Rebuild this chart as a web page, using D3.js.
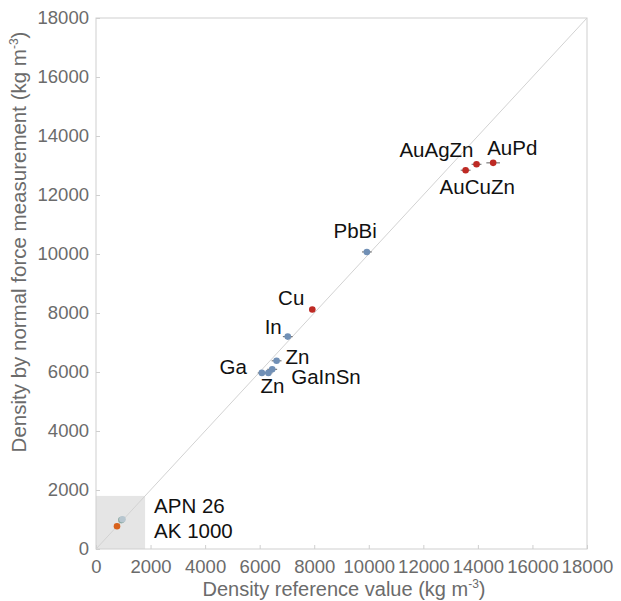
<!DOCTYPE html>
<html><head><meta charset="utf-8">
<script src="https://cdn.jsdelivr.net/npm/d3@7"></script>
<style>body{margin:0;background:#fff;} text{font-family:"Liberation Sans",Arial,sans-serif;}</style>
</head><body>
<svg id="c" width="621" height="601"></svg>
<script>
// ---- data ----
const samples = ["AuPd","AuAgZn","AuCuZn","PbBi","Cu","In","Zn","GaInSn","Zn","Ga","AK 1000","APN 26","APN 26b"];
const refDensity = [14560,13950,13550,9930,7930,7030,6620,6460,6320,6080,770,930,970];
const measuredDensity = [13090,13040,12840,10070,8120,7200,6380,6090,5970,5970,770,980,1010];
const refError = [250,180,180,180,0,180,180,180,150,150,0,0,0];
const sampleGroup = ["alloy","alloy","alloy","metal","alloy","metal","metal","metal","metal","metal","ak","apn","apn2"];
const xTicks = [0,2000,4000,6000,8000,10000,12000,14000,16000,18000];
const yTicks = [0,2000,4000,6000,8000,10000,12000,14000,16000,18000];
const lowRegionMax = 1800;
const lowRegionLabels = ["APN 26","AK 1000"];

// ---- styles / positions ----
const groupColor = {alloy:"#be2a24", metal:"#7190b6", ak:"#d8621c", apn:"#8aa8a2", apn2:"#b7c6cf"};
// label offsets (px) relative to point: [dx, dy(baseline), anchor]
const labelPos = [[-6,-8,"start"],[-3,-7,"end"],[-26,24,"start"],[10,-14,"end"],[-8,-4,"end"],
  [-6,-3,"end"],[9,3,"start"],[19,15,"start"],[-8,20,"start"],[-15,1,"end"],null,null,null];

const svg = d3.select("#c");
const x = d3.scaleLinear().domain([0,18000]).range([96,587]);
const y = d3.scaleLinear().domain([0,18000]).range([549,18]);
const grey = "#6b6b6b";

// shaded low region
svg.append("rect").attr("x",x(0)).attr("y",y(lowRegionMax))
  .attr("width",x(lowRegionMax)-x(0)).attr("height",y(0)-y(lowRegionMax)).attr("fill","#e5e5e5");

// frame
svg.append("rect").attr("x",x(0)).attr("y",y(18000)).attr("width",x(18000)-x(0)).attr("height",y(0)-y(18000))
  .attr("fill","none").attr("stroke","#cfcfcf").attr("stroke-width",1);

// axes
const xAxis = svg.append("g").attr("transform",`translate(0,${y(0)})`)
  .call(d3.axisBottom(x).tickValues(xTicks).tickFormat(d3.format("d")).tickSizeInner(-4).tickSizeOuter(0).tickPadding(11));
const yAxis = svg.append("g").attr("transform",`translate(${x(0)},0)`)
  .call(d3.axisLeft(y).tickValues(yTicks).tickFormat(d3.format("d")).tickSizeInner(-4).tickSizeOuter(0).tickPadding(7));
[xAxis,yAxis].forEach(a=>{
  a.select(".domain").remove();
  a.selectAll(".tick line").attr("stroke","#cfcfcf");
  a.selectAll(".tick text").attr("fill",grey).style("font-size","18.5px").style("font-family","'Liberation Sans',Arial,sans-serif");
});
xAxis.selectAll(".tick text").attr("dy","0.71em");

// diagonal
svg.append("line").attr("x1",x(0)).attr("y1",y(0)).attr("x2",x(18000)).attr("y2",y(18000))
  .attr("stroke","#d2d2d2").attr("stroke-width",1);

// error bars
const idx = d3.range(samples.length);
svg.append("g").selectAll("line").data(idx.filter(i=>refError[i]>0)).join("line")
  .attr("x1",i=>x(refDensity[i]-refError[i])).attr("x2",i=>x(refDensity[i]+refError[i]))
  .attr("y1",i=>y(measuredDensity[i])).attr("y2",i=>y(measuredDensity[i]))
  .attr("stroke","#7a7a7a").attr("stroke-width",1.2);

// points
svg.append("g").selectAll("circle").data(idx).join("circle")
  .attr("cx",i=>x(refDensity[i])).attr("cy",i=>y(measuredDensity[i])).attr("r",3.3)
  .attr("fill",i=>groupColor[sampleGroup[i]]);

// labels
svg.append("g").selectAll("text").data(idx.filter(i=>labelPos[i])).join("text")
  .attr("x",i=>x(refDensity[i])+labelPos[i][0]).attr("y",i=>y(measuredDensity[i])+labelPos[i][1])
  .attr("text-anchor",i=>labelPos[i][2]).attr("fill","#111").style("font-size","20.5px")
  .text(i=>samples[i]);

svg.append("g").selectAll("text").data(lowRegionLabels).join("text")
  .attr("x",x(lowRegionMax)+9).attr("y",(d,j)=>y(lowRegionMax)+17+j*25)
  .attr("fill","#111").style("font-size","20.5px").text(d=>d);

// axis titles
const xt = svg.append("text").attr("x",344).attr("y",596).attr("text-anchor","middle")
  .attr("fill",grey).style("font-size","20px");
xt.append("tspan").text("Density reference value (kg m");
xt.append("tspan").attr("dy",-8).style("font-size","12px").text("-3");
xt.append("tspan").attr("dy",8).text(")");

const yt = svg.append("text").attr("transform","translate(26,242) rotate(-90)").attr("text-anchor","middle")
  .attr("fill",grey).style("font-size","20.5px");
yt.append("tspan").text("Density by normal force measurement (kg m");
yt.append("tspan").attr("dy",-8).style("font-size","12px").text("-3");
yt.append("tspan").attr("dy",8).text(")");
</script>
</body></html>
